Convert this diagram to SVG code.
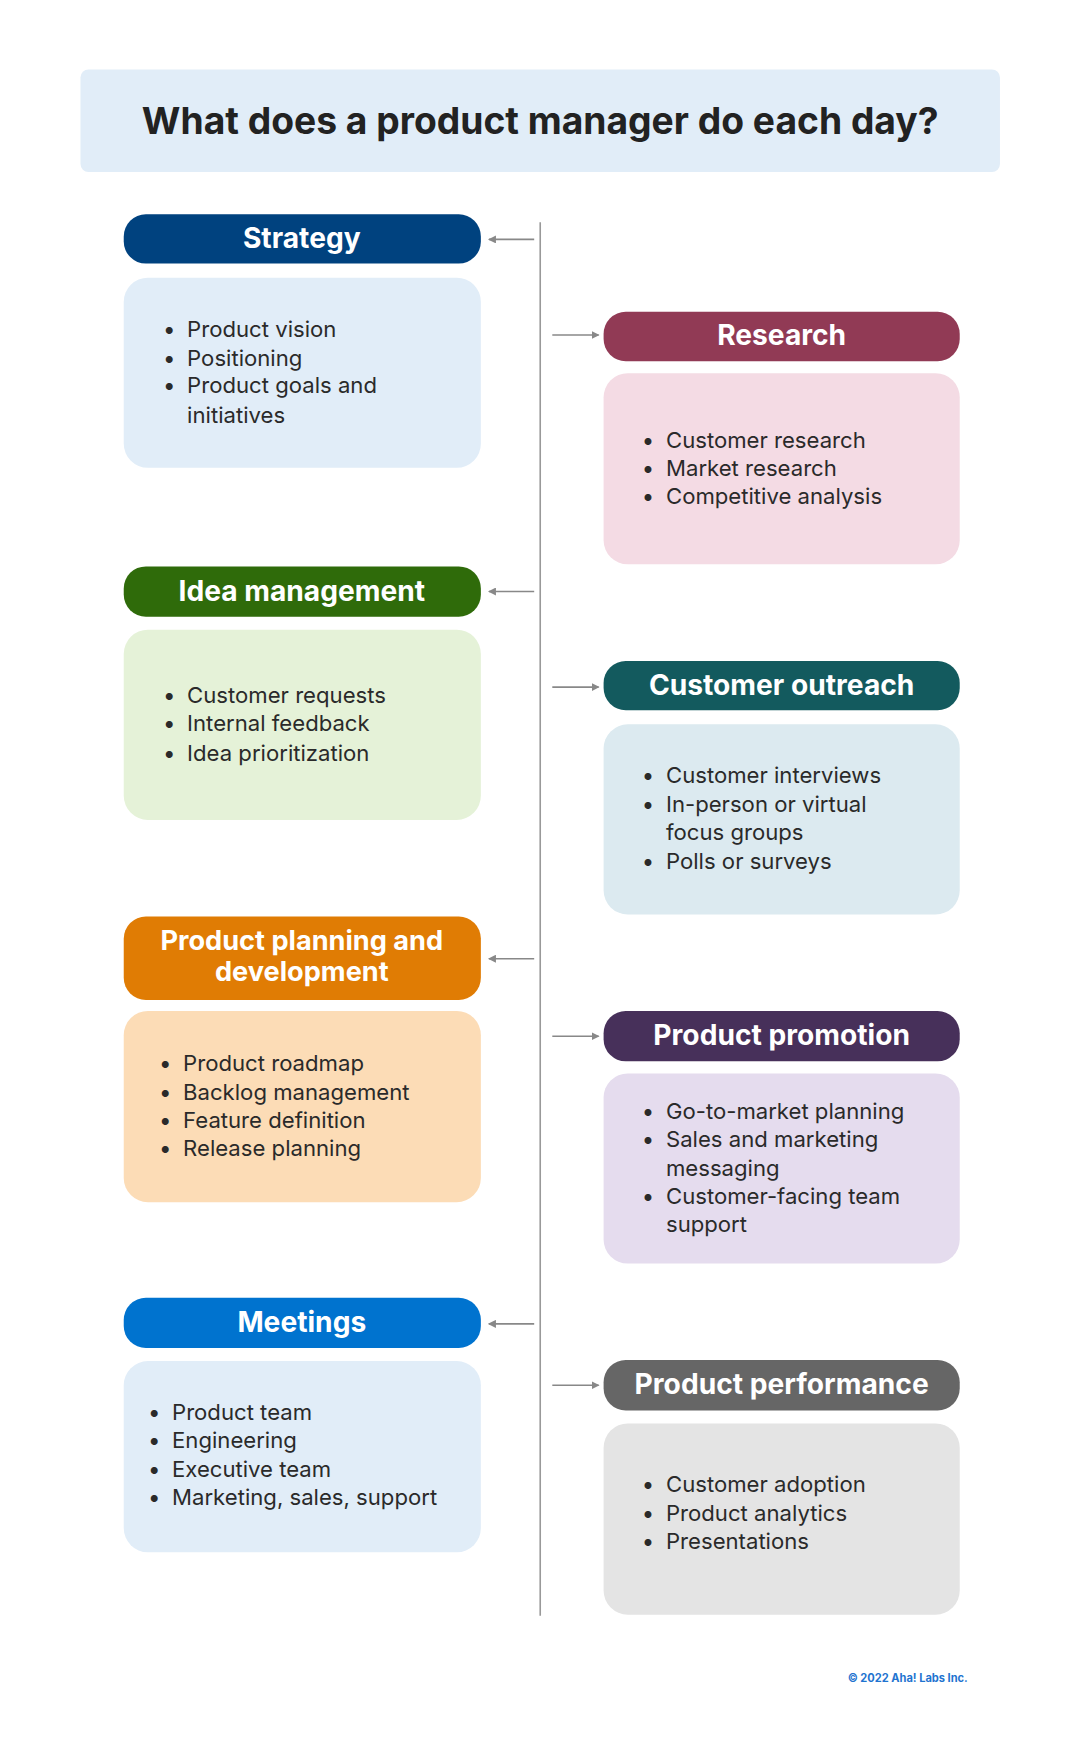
<svg xmlns="http://www.w3.org/2000/svg" width="1080" height="1737" viewBox="0 0 1080 1737">
<style>
.h{font-family:Inter,"Noto Sans",sans-serif;font-weight:700;font-size:28px;fill:#fff;text-anchor:middle}
.b{font-family:Inter,"Noto Sans",sans-serif;font-size:22px;fill:#2a2a2a}
.c{stroke:#888;stroke-width:1.6;fill:none;marker-end:url(#a)}
</style>
<defs><marker id="a" markerWidth="8" markerHeight="8" refX="7" refY="4" orient="auto" markerUnits="userSpaceOnUse"><path d="M0,0L8,4L0,8Z" fill="#888"/></marker></defs>
<rect width="1080" height="1737" fill="#fff"/>
<g transform="scale(1.006)">
<g id="title"><rect x="80" y="69" width="914" height="102" rx="8" fill="#e1edf8"/>
<text x="537" y="133" style="font-family:Inter,'Noto Sans',sans-serif;font-weight:700;font-size:37px;fill:#222;text-anchor:middle">What does a product manager do each day?</text></g>
<g id="connectors">
<line x1="537" y1="221" x2="537" y2="1606" stroke="#999" stroke-width="1.6"/>
<line class="c" x1="531" y1="238" x2="486" y2="238"/>
<line class="c" x1="531" y1="588" x2="486" y2="588"/>
<line class="c" x1="531" y1="953" x2="486" y2="953"/>
<line class="c" x1="531" y1="1316" x2="486" y2="1316"/>
<line class="c" x1="549" y1="333" x2="595" y2="333"/>
<line class="c" x1="549" y1="683" x2="595" y2="683"/>
<line class="c" x1="549" y1="1030" x2="595" y2="1030"/>
<line class="c" x1="549" y1="1377" x2="595" y2="1377"/>
</g>
<g id="strategy"><rect x="123" y="213" width="355" height="49" rx="22" fill="#00427f"/><text class="h" x="300" y="247">Strategy</text>
<rect x="123" y="276" width="355" height="189" rx="24" fill="#e1edf8"/>
<text class="b"><tspan x="162" y="335">•</tspan><tspan x="186" y="335">Product vision</tspan><tspan x="162" y="364">•</tspan><tspan x="186" y="364">Positioning</tspan><tspan x="162" y="391">•</tspan><tspan x="186" y="391">Product goals and</tspan><tspan x="186" y="420">initiatives</tspan></text></g>
<g id="research"><rect x="600" y="310" width="354" height="49" rx="22" fill="#913a55"/><text class="h" x="777" y="343">Research</text>
<rect x="600" y="371" width="354" height="190" rx="24" fill="#f4dbe4"/>
<text class="b"><tspan x="638" y="445">•</tspan><tspan x="662" y="445">Customer research</tspan><tspan x="638" y="473">•</tspan><tspan x="662" y="473">Market research</tspan><tspan x="638" y="501">•</tspan><tspan x="662" y="501">Competitive analysis</tspan></text></g>
<g id="idea"><rect x="123" y="563" width="355" height="50" rx="22" fill="#2f6b0a"/><text class="h" x="300" y="597">Idea management</text>
<rect x="123" y="626" width="355" height="189" rx="24" fill="#e5f2d8"/>
<text class="b"><tspan x="162" y="699">•</tspan><tspan x="186" y="699">Customer requests</tspan><tspan x="162" y="727">•</tspan><tspan x="186" y="727">Internal feedback</tspan><tspan x="162" y="756">•</tspan><tspan x="186" y="756">Idea prioritization</tspan></text></g>
<g id="outreach"><rect x="600" y="657" width="354" height="49" rx="22" fill="#135a5e"/><text class="h" x="777" y="691">Customer outreach</text>
<rect x="600" y="720" width="354" height="189" rx="24" fill="#dceaf0"/>
<text class="b"><tspan x="638" y="778">•</tspan><tspan x="662" y="778">Customer interviews</tspan><tspan x="638" y="807">•</tspan><tspan x="662" y="807">In-person or virtual</tspan><tspan x="662" y="835">focus groups</tspan><tspan x="638" y="864">•</tspan><tspan x="662" y="864">Polls or surveys</tspan></text></g>
<g id="planning"><rect x="123" y="911" width="355" height="83" rx="22" fill="#e07c04"/><text class="h" x="300" y="944" style="font-size:27px">Product planning and</text><text class="h" x="300" y="975" style="font-size:27px">development</text>
<rect x="123" y="1005" width="355" height="190" rx="24" fill="#fcdcb6"/>
<text class="b"><tspan x="158" y="1065">•</tspan><tspan x="182" y="1065">Product roadmap</tspan><tspan x="158" y="1093">•</tspan><tspan x="182" y="1093">Backlog management</tspan><tspan x="158" y="1121">•</tspan><tspan x="182" y="1121">Feature definition</tspan><tspan x="158" y="1149">•</tspan><tspan x="182" y="1149">Release planning</tspan></text></g>
<g id="promotion"><rect x="600" y="1005" width="354" height="50" rx="22" fill="#47305a"/><text class="h" x="777" y="1039">Product promotion</text>
<rect x="600" y="1067" width="354" height="189" rx="24" fill="#e5dcee"/>
<text class="b"><tspan x="638" y="1112">•</tspan><tspan x="662" y="1112">Go-to-market planning</tspan><tspan x="638" y="1140">•</tspan><tspan x="662" y="1140">Sales and marketing</tspan><tspan x="662" y="1169">messaging</tspan><tspan x="638" y="1197">•</tspan><tspan x="662" y="1197">Customer-facing team</tspan><tspan x="662" y="1225">support</tspan></text></g>
<g id="meetings"><rect x="123" y="1290" width="355" height="50" rx="22" fill="#0073cf"/><text class="h" x="300" y="1324">Meetings</text>
<rect x="123" y="1353" width="355" height="190" rx="24" fill="#e1edf8"/>
<text class="b"><tspan x="147" y="1412">•</tspan><tspan x="171" y="1412">Product team</tspan><tspan x="147" y="1439">•</tspan><tspan x="171" y="1439">Engineering</tspan><tspan x="147" y="1468">•</tspan><tspan x="171" y="1468">Executive team</tspan><tspan x="147" y="1496">•</tspan><tspan x="171" y="1496">Marketing, sales, support</tspan></text></g>
<g id="performance"><rect x="600" y="1352" width="354" height="50" rx="22" fill="#666"/><text class="h" x="777" y="1386">Product performance</text>
<rect x="600" y="1415" width="354" height="190" rx="24" fill="#e4e4e4"/>
<text class="b"><tspan x="638" y="1483">•</tspan><tspan x="662" y="1483">Customer adoption</tspan><tspan x="638" y="1512">•</tspan><tspan x="662" y="1512">Product analytics</tspan><tspan x="638" y="1540">•</tspan><tspan x="662" y="1540">Presentations</tspan></text></g>
<text x="962" y="1672" style="font-family:Inter,'Noto Sans',sans-serif;font-weight:700;font-size:11px;fill:#1f74d0;text-anchor:end">© 2022 Aha! Labs Inc.</text>
</g>
</svg>
